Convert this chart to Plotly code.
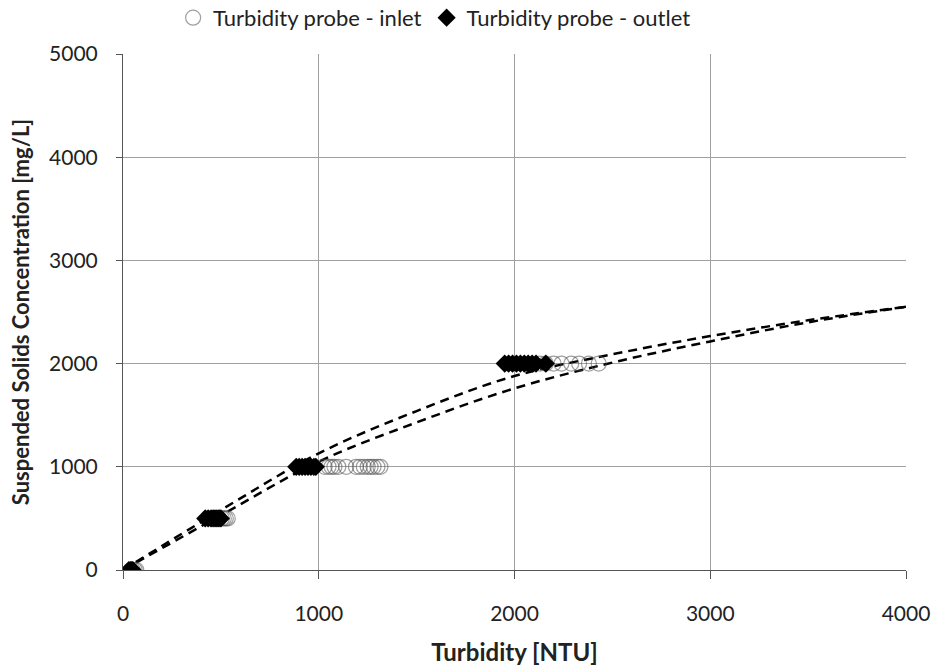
import plotly.graph_objects as go

# Inlet probe readings (NTU) at each concentration (mg/L)
inlet_ntu = [40, 50, 60, 68,
             450, 470, 490, 505, 515, 525, 535,
             1030, 1050, 1065, 1080, 1100, 1140, 1190, 1210, 1230, 1250, 1265, 1280, 1300, 1315,
             2130, 2160, 2200, 2240, 2290, 2330, 2380, 2430]
inlet_ssc = [0] * 4 + [500] * 7 + [1000] * 14 + [2000] * 8

# Outlet probe readings
outlet_ntu = [30, 38, 45, 50,
              420, 435, 450, 460, 470, 480, 490, 500,
              885, 900, 915, 930, 945, 960, 975, 985,
              1950, 1970, 1990, 2010, 2030, 2050, 2070, 2090, 2110, 2160]
outlet_ssc = [0] * 4 + [500] * 8 + [1000] * 8 + [2000] * 10

# Trendlines
trend_a_x = [0, 500, 1000, 1500, 2000, 2500, 3000, 3500, 4000]
trend_a_y = [0, 580, 1130, 1540, 1880, 2090, 2267, 2420, 2550]
trend_b_x = [0, 500, 1000, 1500, 2000, 2500, 3000, 3500, 4000]
trend_b_y = [0, 530, 1050, 1430, 1760, 2010, 2215, 2400, 2550]

x_ticks = [0, 1000, 2000, 3000, 4000]
y_ticks = [0, 1000, 2000, 3000, 4000, 5000]

FONT = "Lato, Carlito, Calibri, sans-serif"

fig = go.Figure()
fig.add_trace(go.Scatter(x=trend_a_x, y=trend_a_y, mode="lines", line_shape="spline",
                         line=dict(color="black", width=2.5, dash="9px,6px"),
                         showlegend=False, hoverinfo="skip"))
fig.add_trace(go.Scatter(x=trend_b_x, y=trend_b_y, mode="lines", line_shape="spline",
                         line=dict(color="black", width=2.5, dash="9px,6px"),
                         showlegend=False, hoverinfo="skip"))
fig.add_trace(go.Scatter(x=inlet_ntu, y=inlet_ssc, mode="markers",
                         name="Turbidity probe - inlet",
                         marker=dict(symbol="circle-open", size=15,
                                     line=dict(color="rgba(80,80,80,0.55)", width=1.2),
                                     color="rgba(80,80,80,0.55)")))
fig.add_trace(go.Scatter(x=outlet_ntu, y=outlet_ssc, mode="markers",
                         name="Turbidity probe - outlet",
                         marker=dict(symbol="diamond", size=14, color="black")))

fig.update_layout(
    width=935, height=669,
    margin=dict(l=123, r=29, t=54, b=99, autoexpand=False),
    paper_bgcolor="white", plot_bgcolor="white",
    font=dict(family=FONT, size=21, color="#222"),
    legend=dict(orientation="h", x=0.064, xanchor="left", y=1.07, yanchor="middle",
                font=dict(size=22), itemwidth=30, traceorder="normal"),
    showlegend=True,
)
fig.update_xaxes(range=[0, 4000], tickvals=x_ticks, ticktext=[str(v) for v in x_ticks],
                 showgrid=True, gridcolor="#a0a0a0", gridwidth=1,
                 showline=True, linecolor="#555", linewidth=1,
                 ticks="outside", ticklen=8, tickcolor="#555",
                 ticklabelstandoff=17, automargin=False,
                 title=dict(text="<b>Turbidity [NTU]</b>", font=dict(size=24), standoff=19),
                 zeroline=False)
fig.update_yaxes(range=[0, 5000], tickvals=y_ticks, ticktext=[str(v) for v in y_ticks],
                 showgrid=True, gridcolor="#a0a0a0", gridwidth=1,
                 showline=True, linecolor="#555", linewidth=1,
                 ticks="outside", ticklen=6, tickcolor="#555",
                 ticklabelstandoff=14, automargin=False,
                 title=dict(text="<b>Suspended Solids Concentration [mg/L]</b>", font=dict(size=22), standoff=13),
                 zeroline=False)

fig.write_html("out.html")
